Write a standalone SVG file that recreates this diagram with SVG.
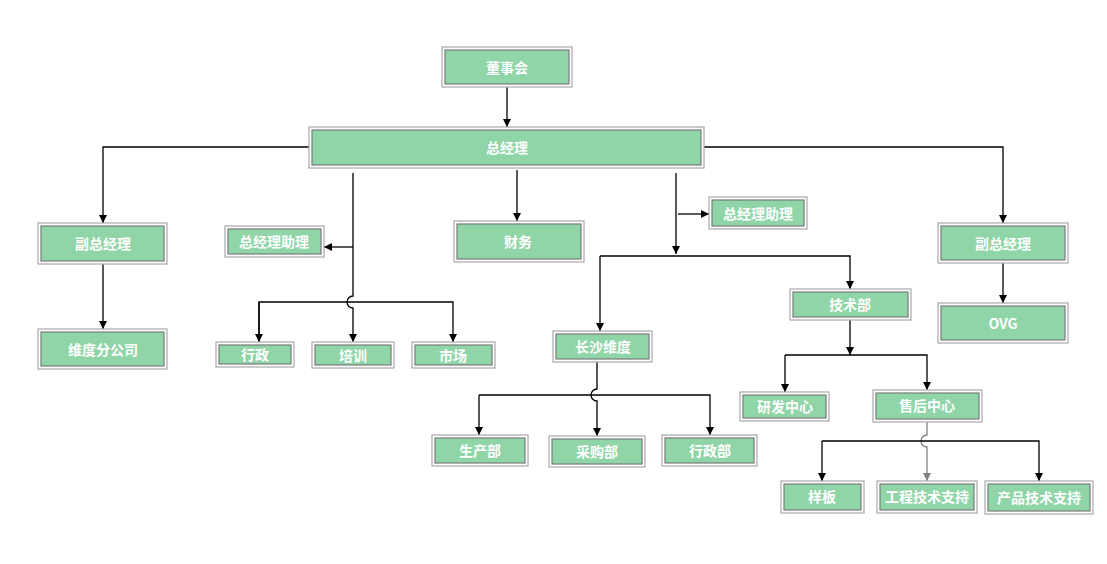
<svg xmlns="http://www.w3.org/2000/svg" width="1107" height="564" viewBox="0 0 1107 564">
<defs>
<style>
.o{fill:#ffffff;stroke:#a8a8a8;stroke-width:1.2}
.i{fill:#8fd5a8;stroke:#7a7a7a;stroke-width:1.2}
.t{fill:#ffffff;font-family:"Noto Sans CJK SC","Liberation Sans",sans-serif;font-weight:bold;font-size:14px;text-anchor:middle;dominant-baseline:central}
.c{fill:none;stroke:#000;stroke-width:1.3}
.g{fill:none;stroke:#808080;stroke-width:1.3}
</style>
<marker id="a" viewBox="0 0 10 10" refX="10" refY="5" markerWidth="8" markerHeight="8" markerUnits="userSpaceOnUse" orient="auto">
<path d="M0,0 L10,5 L0,10 z" fill="#000"/>
</marker>
<marker id="ag" viewBox="0 0 10 10" refX="10" refY="5" markerWidth="8" markerHeight="8" markerUnits="userSpaceOnUse" orient="auto">
<path d="M0,0 L10,5 L0,10 z" fill="#808080"/>
</marker>
</defs>
<rect width="1107" height="564" fill="#ffffff"/>
<g id="connectors">
<path class="c" d="M507,87 V127" marker-end="url(#a)"/>
<path class="c" d="M309,147 H103 V223" marker-end="url(#a)"/>
<path class="c" d="M103,264 V329" marker-end="url(#a)"/>
<path class="c" d="M704,147 H1003 V223" marker-end="url(#a)"/>
<path class="c" d="M1003,263 V303" marker-end="url(#a)"/>
<path class="c" d="M517,170 V221" marker-end="url(#a)"/>
<path class="c" d="M353,173 V296 A6,6 0 0 0 353,308 V342" marker-end="url(#a)"/>
<path class="c" d="M353,247 H324" marker-end="url(#a)"/>
<path class="c" d="M259,342 V302 H453 V342" marker-end="url(#a)"/>
<path class="c" d="M259,302 V342" marker-end="url(#a)"/>
<path class="c" d="M676,173 V254" marker-end="url(#a)"/>
<path class="c" d="M678,214 H709" marker-end="url(#a)"/>
<path class="c" d="M600,256 H850 V289" marker-end="url(#a)"/>
<path class="c" d="M600,256 V331" marker-end="url(#a)"/>
<path class="c" d="M850,320 V355" marker-end="url(#a)"/>
<path class="c" d="M785,355 H927 V390" marker-end="url(#a)"/>
<path class="c" d="M785,355 V392" marker-end="url(#a)"/>
<path class="c" d="M597,362 V389 A6,6 0 0 0 597,401 V436" marker-end="url(#a)"/>
<path class="c" d="M479,395 H710 V435" marker-end="url(#a)"/>
<path class="c" d="M479,395 V435" marker-end="url(#a)"/>
<path class="g" d="M927,422 V435 A6,6 0 0 0 927,447 V481" marker-end="url(#ag)"/>
<path class="c" d="M822,441 H1039 V481" marker-end="url(#a)"/>
<path class="c" d="M822,441 V481" marker-end="url(#a)"/>
</g>
<g id="n1"><rect class="o" x="442" y="47" width="130" height="40"/><rect class="i" x="445" y="50" width="124" height="34"/><text class="t" x="507" y="67">董事会</text></g>
<g id="n2"><rect class="o" x="309" y="127" width="395" height="41"/><rect class="i" x="312" y="130" width="389" height="35"/><text class="t" x="507" y="147">总经理</text></g>
<g id="n3"><rect class="o" x="38" y="223" width="129" height="41"/><rect class="i" x="41" y="226" width="123" height="35"/><text class="t" x="103" y="243">副总经理</text></g>
<g id="n4"><rect class="o" x="38" y="329" width="129" height="40"/><rect class="i" x="41" y="332" width="123" height="34"/><text class="t" x="103" y="349">维度分公司</text></g>
<g id="n5"><rect class="o" x="225" y="226" width="99" height="31"/><rect class="i" x="228" y="229" width="93" height="25"/><text class="t" x="274" y="241">总经理助理</text></g>
<g id="n6"><rect class="o" x="454" y="221" width="130" height="41"/><rect class="i" x="457" y="224" width="124" height="35"/><text class="t" x="518" y="241">财务</text></g>
<g id="n7"><rect class="o" x="709" y="197" width="98" height="32"/><rect class="i" x="712" y="200" width="92" height="26"/><text class="t" x="758" y="213">总经理助理</text></g>
<g id="n8"><rect class="o" x="938" y="223" width="130" height="40"/><rect class="i" x="941" y="226" width="124" height="34"/><text class="t" x="1003" y="243">副总经理</text></g>
<g id="n9"><rect class="o" x="938" y="303" width="130" height="40"/><rect class="i" x="941" y="306" width="124" height="34"/><text class="t" x="1003" y="323">OVG</text></g>
<g id="n10"><rect class="o" x="216" y="342" width="78" height="25"/><rect class="i" x="219" y="345" width="72" height="19"/><text class="t" x="255" y="354">行政</text></g>
<g id="n11"><rect class="o" x="312" y="342" width="82" height="26"/><rect class="i" x="315" y="345" width="76" height="20"/><text class="t" x="353" y="355">培训</text></g>
<g id="n12"><rect class="o" x="412" y="342" width="83" height="26"/><rect class="i" x="415" y="345" width="77" height="20"/><text class="t" x="453" y="355">市场</text></g>
<g id="n13"><rect class="o" x="553" y="331" width="99" height="31"/><rect class="i" x="556" y="334" width="93" height="25"/><text class="t" x="603" y="346">长沙维度</text></g>
<g id="n14"><rect class="o" x="790" y="289" width="121" height="31"/><rect class="i" x="793" y="292" width="115" height="25"/><text class="t" x="850" y="304">技术部</text></g>
<g id="n15"><rect class="o" x="740" y="392" width="89" height="29"/><rect class="i" x="743" y="395" width="83" height="23"/><text class="t" x="785" y="406">研发中心</text></g>
<g id="n16"><rect class="o" x="873" y="390" width="109" height="32"/><rect class="i" x="876" y="393" width="103" height="26"/><text class="t" x="927" y="405">售后中心</text></g>
<g id="n17"><rect class="o" x="432" y="435" width="96" height="31"/><rect class="i" x="435" y="438" width="90" height="25"/><text class="t" x="480" y="450">生产部</text></g>
<g id="n18"><rect class="o" x="549" y="436" width="96" height="31"/><rect class="i" x="552" y="439" width="90" height="25"/><text class="t" x="597" y="451">采购部</text></g>
<g id="n19"><rect class="o" x="662" y="435" width="95" height="31"/><rect class="i" x="665" y="438" width="89" height="25"/><text class="t" x="710" y="450">行政部</text></g>
<g id="n20"><rect class="o" x="781" y="481" width="83" height="32"/><rect class="i" x="784" y="484" width="77" height="26"/><text class="t" x="822" y="496">样板</text></g>
<g id="n21"><rect class="o" x="877" y="481" width="100" height="32"/><rect class="i" x="880" y="484" width="94" height="26"/><text class="t" x="927" y="496">工程技术支持</text></g>
<g id="n22"><rect class="o" x="985" y="481" width="108" height="33"/><rect class="i" x="988" y="484" width="102" height="27"/><text class="t" x="1039" y="497">产品技术支持</text></g>
</svg>
